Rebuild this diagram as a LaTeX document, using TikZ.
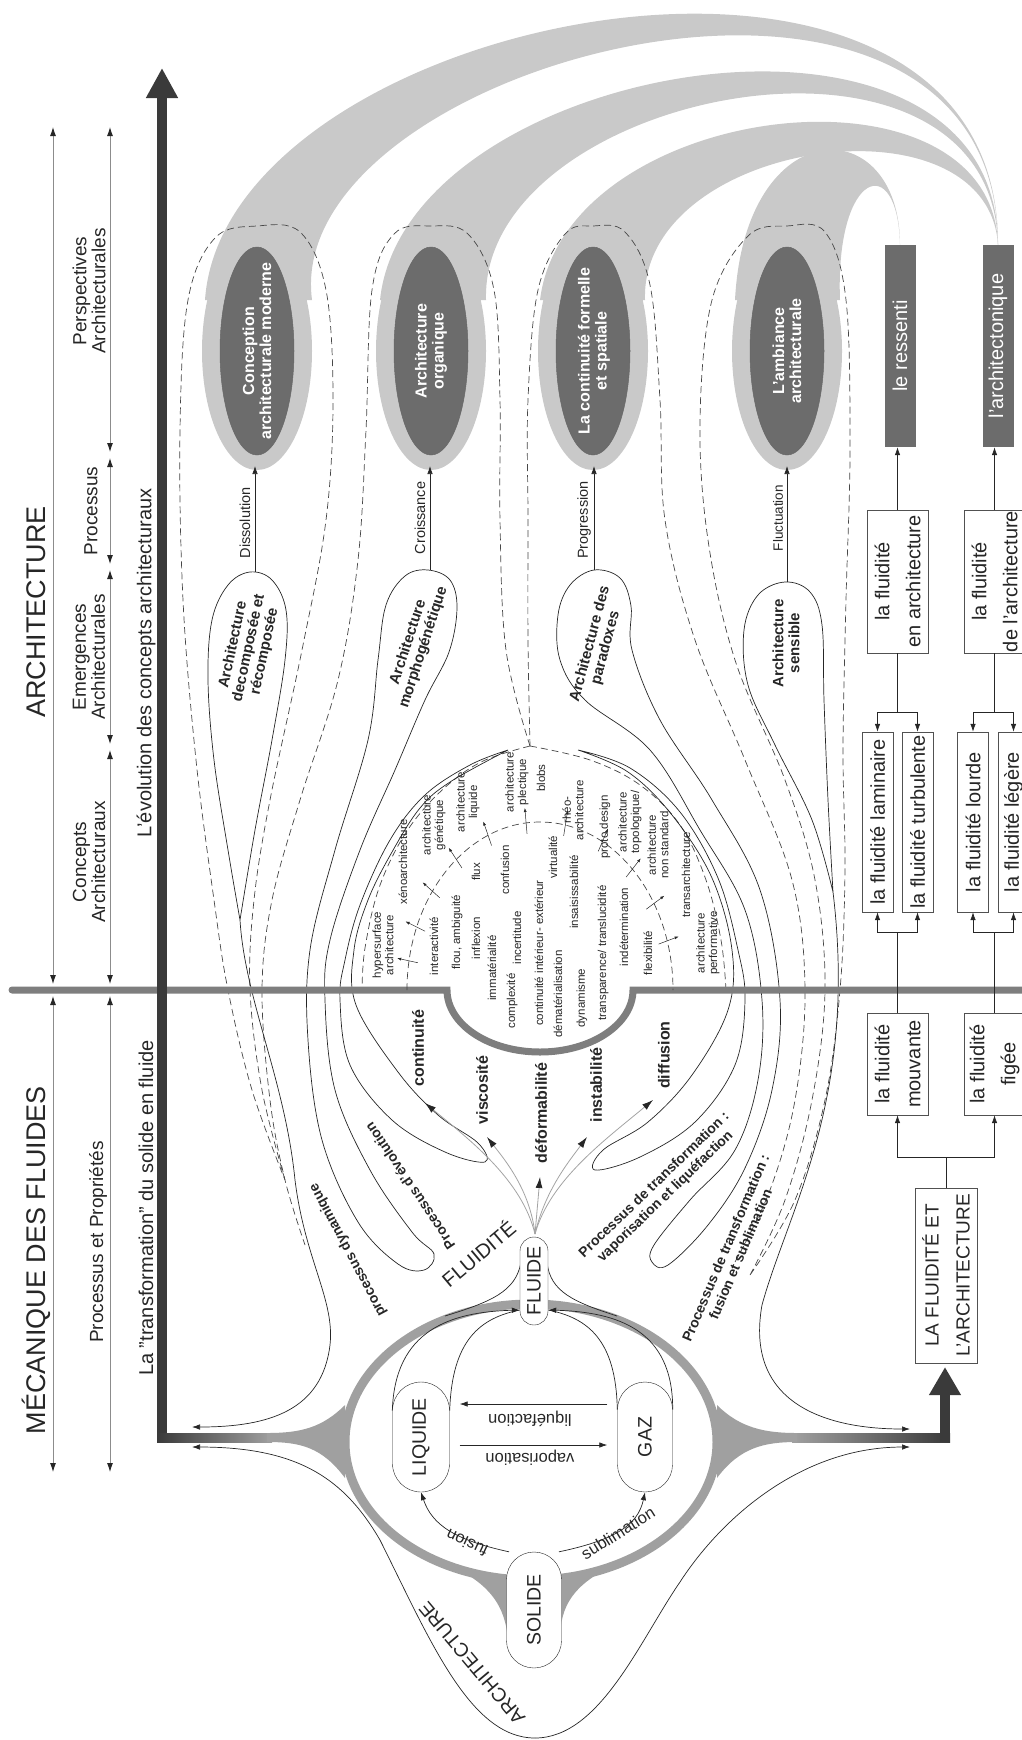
\documentclass[tikz,border=0pt]{standalone}
\usepackage{fontspec}
\setmainfont{Liberation Sans}
\usetikzlibrary{arrows.meta,positioning,shapes.misc,calc}

\definecolor{axisdark}{HTML}{3A3A3A}
\definecolor{bargrey}{HTML}{7E7E7E}
\definecolor{bandgrey}{HTML}{C9C9C9}
\definecolor{coregrey}{HTML}{6C6C6C}
\definecolor{ringgrey}{HTML}{A0A0A0}
\definecolor{ink}{HTML}{262626}
\definecolor{wire}{HTML}{8C8C8C}

\tikzset{
  vtext/.style={rotate=90, inner sep=1pt, text=ink, align=center},
  bigtitle/.style={vtext, font=\fontsize{27}{30}\selectfont},
  coltitle/.style={vtext, font=\fontsize{19}{19}\selectfont},
  axistitle/.style={vtext, font=\fontsize{20}{22}\selectfont},
  corename/.style={vtext, text=white, font=\bfseries\fontsize{16}{17}\selectfont},
  lobename/.style={inner sep=1pt, text=ink, align=center, font=\bfseries\fontsize{15}{16}\selectfont},
  stepname/.style={vtext, font=\fontsize{14.5}{16}\selectfont},
  propname/.style={vtext, font=\bfseries\fontsize{16}{18}\selectfont},
  idea/.style={vtext, inner sep=0pt, font=\fontsize{11.5}{12.5}\selectfont},
  procname/.style={inner sep=0pt, text=ink, align=center, font=\bfseries\fontsize{14}{16}\selectfont},
  phasenode/.style={rounded rectangle, draw=ink, fill=white, rotate=90, inner sep=0pt, font=\fontsize{19.5}{20}\selectfont, text=ink},
  phasename/.style={inner sep=0pt, text=ink, font=\fontsize{16.5}{18}\selectfont},
  plainbox/.style={draw=ink!80, fill=white, rotate=90, inner sep=0pt, align=center, text=ink, font=\fontsize{20}{31}\selectfont},
  darkbox/.style={fill=coregrey, rotate=90, inner sep=0pt, text=white, font=\fontsize{20}{22}\selectfont, minimum width=202pt, minimum height=31pt},
  headtip/.style={-{Latex[length=8pt,width=5.5pt,color=ink]}},
  smalltip/.style={-{Latex[length=4pt,width=3pt,color=ink]}},
  dimline/.style={{Latex[length=9pt,width=6pt,color=ink]}-{Latex[length=9pt,width=6pt,color=ink]}, wire, line width=0.9pt},
  flowline/.style={ink, line width=0.7pt, headtip},
  propline/.style={wire!80, line width=0.8pt, -{Latex[length=11pt,width=7pt,color=ink]}},
  loopline/.style={ink, line width=0.7pt},
  dashloop/.style={ink!85, line width=0.7pt, dash pattern=on 7pt off 4pt},
}

\begin{document}
\begin{tikzpicture}[x=1pt,y=-1pt]
\useasboundingbox (0,0) rectangle (1022,1740);

\fill[bandgrey] (205,300) .. controls (225,10) and (1000,-140) .. (998,245) .. controls (997,-125) and (280,60) .. (312,300) -- cycle;
\fill[bandgrey] (380,300) .. controls (405,60) and (998,-40) .. (998,245) .. controls (992,-10) and (480,90) .. (486,300) -- cycle;
\fill[bandgrey] (540,300) .. controls (565,100) and (992,50) .. (998,245) .. controls (988,90) and (640,140) .. (645,300) -- cycle;
\fill[bandgrey] (735,300) .. controls (745,110) and (900,110) .. (900,245) .. controls (898,150) and (835,170) .. (840,300) -- cycle;

\draw[dashloop] plot[smooth, tension=0.6] coordinates {(285,1180) (262,1090) (250,990) (254,900) (270,800) (302,650) (326,520) (333,400) (326,290) (300,232) (257,226) (215,238) (188,300) (180,430) (183,600) (196,760) (214,900) (228,990) (252,1090) (285,1180)};
\draw[dashloop] plot[smooth, tension=0.6] coordinates {(530,746) (506,650) (500,520) (500,400) (494,290) (468,234) (431,226) (394,234) (372,290) (366,430) (358,560) (338,680) (300,800) (272,900) (262,990) (270,1100) (285,1180) (305,1245)};
\draw[dashloop] plot[smooth, tension=0.6] coordinates {(530,746) (481,762) (440,792) (405,834) (379,888) (365,948) (362,990)};
\draw[dashloop] plot[smooth, tension=0.6] coordinates {(530,746) (590,760) (640,785) (680,825) (706,880) (721,940) (726,990)};
\draw[dashloop] plot[smooth, tension=0.6] coordinates {(530,746) (528,640) (528,520) (528,400) (538,290) (565,234) (593,226) (625,232) (650,285) (660,400) (665,520) (695,640) (745,760) (792,880) (805,990) (795,1100) (770,1190) (735,1262)};
\draw[dashloop] plot[smooth, tension=0.6] coordinates {(750,1275) (785,1200) (812,1100) (825,990) (815,880) (785,780) (735,660) (708,540) (700,420) (712,300) (748,236) (787,226) (825,232) (846,300) (850,450) (846,600) (843,750) (845,870) (840,990) (825,1100) (795,1200) (750,1275)};

\foreach \cx in {257,431,593,787}{
  \fill[bandgrey] (\cx,351) ellipse[x radius=55, y radius=119];
  \filldraw[fill=coregrey, draw=ink!70, line width=0.5pt] (\cx,351) ellipse[x radius=37, y radius=104];
}
\node[corename] (coreone) at (257,351) {Conception\\architecturale moderne};
\node[corename] (coretwo) at (431,351) {Architecture\\organique};
\node[corename] (corethree) at (594,351) {La continuité formelle\\et spatiale};
\node[corename] (corefour) at (787,351) {L'ambiance\\architecturale};

\draw[loopline] plot[smooth, tension=0.6] coordinates {(240,920) (228,850) (214,760) (208,680) (212,620) (228,585) (250,572) (272,580) (286,610) (285,660) (272,740) (255,830) (240,920)};
\draw[flowline] (240,920) .. controls (245,1000) and (285,1080) .. (295,1180) .. controls (305,1260) and (335,1300) .. (330,1345) .. controls (322,1410) and (270,1427) .. (192,1427);
\draw[loopline] plot[smooth cycle, tension=0.6] coordinates {(428,570) (450,580) (457,608) (449,652) (425,700) (395,770) (360,850) (330,940) (325,1000) (335,1090) (370,1170) (412,1232) (434,1254) (424,1270) (398,1264) (358,1222) (322,1140) (308,1040) (310,950) (335,850) (368,740) (378,660) (386,605) (405,576)};
\draw[loopline] plot[smooth, tension=0.6] coordinates {(508,750) (470,765) (425,795) (390,840) (360,905) (345,960) (340,1000) (350,1065) (392,1120) (445,1152) (485,1162) (478,1143) (438,1115) (398,1072) (356,1005) (354,950) (368,900) (392,852) (420,808) (450,782) (508,750)};
\draw[loopline] plot[smooth cycle, tension=0.6] coordinates {(594,570) (620,578) (631,606) (632,650) (660,720) (712,800) (760,890) (780,1000) (772,1090) (745,1168) (708,1225) (668,1265) (652,1262) (654,1245) (690,1200) (735,1150) (758,1080) (762,1000) (745,910) (700,830) (650,750) (585,700) (560,660) (558,615) (570,585)};
\draw[loopline] plot[smooth, tension=0.6] coordinates {(578,750) (630,768) (680,812) (718,878) (738,950) (745,1000) (735,1065) (695,1122) (640,1157) (595,1170) (603,1150) (648,1122) (692,1075) (728,1010) (732,950) (712,878) (672,815) (628,772) (578,750)};
\draw[loopline] plot[smooth, tension=0.6] coordinates {(833,892) (812,820) (775,745) (748,685) (744,630) (758,595) (785,582) (810,592) (822,625) (824,700) (828,800) (833,892)};
\draw[flowline] (833,892) .. controls (858,1100) and (788,1210) .. (762,1305) .. controls (745,1400) and (820,1429) .. (910,1429);

\node[lobename, rotate=78] (lobeone) at (249,648) {Architecture\\decomposée et\\récomposée};
\node[lobename, rotate=72] (lobetwo) at (416,645) {Architecture\\morphogénétique};
\node[lobename, rotate=75] (lobethree) at (598,646) {Architecture des\\paradoxes};
\node[lobename, rotate=90] (lobefour) at (786,643) {Architecture\\sensible};

\draw[flowline] (255,572) -- (255,466);
\draw[flowline] (430,570) -- (430,466);
\draw[flowline] (594,570) -- (594,466);
\draw[flowline] (787,582) -- (787,466);
\node[stepname] (dissolution) at (245,523) {Dissolution};
\node[stepname] (croissance) at (420,518) {Croissance};
\node[stepname] (progression) at (584,520) {Progression};
\node[stepname, font=\fontsize{13.5}{15}\selectfont] (fluctuation) at (778,518) {Fluctuation};

\draw[bargrey, line width=7pt, line cap=round] (12,990) -- (447,990) arc[start angle=180, end angle=0, x radius=93, y radius=62] -- (1022,990);

\coordinate (bubblec) at (540,990);
\draw[dashloop] (407,990) arc[start angle=180, end angle=360, x radius=133, y radius=168];
\foreach \a in {190,202,216,231,247,264,281,298,314,329,343}
  \draw[smalltip, ink, line width=0.5pt] ($(bubblec)+(\a:124 and 157)$) -- ($(bubblec)+(\a:145 and 183)$);

\node[idea] (hypersurface) at (383,945) {hypersurface\\architecture};
\node[idea] (xeno) at (403,862) {xénoarchitecture};
\node[idea] (interactivite) at (434,946) {interactivité};
\node[idea] (genetique) at (434,825) {architecture\\génétique};
\node[idea] (flou) at (457,932) {flou, ambiguité};
\node[idea] (inflexion) at (476,938) {inflexion};
\node[idea] (flux) at (476,872) {flux};
\node[idea] (liquidearch) at (468,802) {architecture\\liquide};
\node[idea] (immaterialite) at (492,968) {immatérialité};
\node[idea] (confusion) at (505,870) {confusion};
\node[idea] (incertitude) at (517,938) {incertitude};
\node[idea] (complexite) at (512,1001) {complexité};
\node[idea] (plectique) at (517,782) {architecture\\plectique};
\node[idea] (blobs) at (541,778) {blobs};
\node[idea] (virtualite) at (553,857) {virtualité};
\node[idea] (interext) at (539,953) {continuité intérieur- extérieur};
\node[idea] (demat) at (558,994) {dématérialisation};
\node[idea] (rheo) at (573,810) {rhéo-\\architecture};
\node[idea] (insaisissable) at (574,892) {insaisissabilité};
\node[idea] (dynamisme) at (582,998) {dynamisme};
\node[idea] (proto) at (605,827) {proto design};
\node[idea] (transparence) at (603,953) {transparence/ translucidité};
\node[idea] (indetermination) at (624,927) {indétermination};
\node[idea] (topologique) at (630,822) {architecture\\topologique/};
\node[idea] (nonstandard) at (658,845) {architecture\\non standard};
\node[idea] (flexibilite) at (648,953) {flexibilité};
\node[idea] (transarch) at (686,875) {transarchitecture};
\node[idea] (performative) at (708,943) {architecture\\performative};

\draw[dimline] (53,127) -- (53,984);
\draw[dimline] (53,996) -- (53,1472);
\draw[dimline] (110,127) -- (110,452);
\draw[dimline] (110,458) -- (110,564);
\draw[dimline] (110,570) -- (110,744);
\draw[dimline] (110,750) -- (110,984);
\draw[dimline] (110,996) -- (110,1472);

\node[bigtitle] (archtitle) at (36,612) {ARCHITECTURE};
\node[bigtitle] (mecatitle) at (36,1260) {MÉCANIQUE DES FLUIDES};
\node[coltitle] (perspectives) at (89,291) {Perspectives\\Architecturales};
\node[coltitle] (processus) at (91,511) {Processus};
\node[coltitle] (emergences) at (89,657) {Emergences\\Architecturales};
\node[coltitle] (concepts) at (89,862) {Concepts\\Architecturaux};
\node[coltitle] (proprietes) at (98,1242) {Processus et Propriétés};
\node[axistitle] (evolution) at (146,663) {L'évolution des concepts architecturaux};
\node[axistitle] (transformation) at (146,1208) {La "transformation" du solide en fluide};

\draw[axisdark, line width=10pt, -{Triangle[length=30pt,width=30pt]}] (162,1442) -- (162,68);
\shade[left color=axisdark, right color=ringgrey] (157,1433) rectangle (272,1442);
\shade[left color=ringgrey, right color=axisdark] (792,1433) rectangle (950,1442);
\draw[axisdark, line width=10pt, -{Triangle[length=28pt,width=30pt]}] (945,1442) -- (945,1367);

\draw[ringgrey, line width=9pt] (531,1442) ellipse[x radius=186, y radius=138];
\fill[ringgrey] (345,1405) .. controls (322,1428) and (300,1433) .. (267,1433) -- (267,1442) .. controls (300,1442) and (322,1447) .. (345,1478) -- cycle;
\fill[ringgrey] (717,1405) .. controls (740,1428) and (765,1433) .. (797,1433) -- (797,1442) .. controls (765,1442) and (740,1447) .. (717,1478) -- cycle;
\fill[ringgrey] (452,1566) .. controls (490,1585) and (505,1605) .. (508,1640) -- (508,1576) -- cycle;
\fill[ringgrey] (612,1566) .. controls (574,1585) and (560,1605) .. (560,1640) -- (560,1576) -- cycle;
\draw[loopline] (445,1316) .. controls (490,1302) and (516,1292) .. (521,1262);
\draw[loopline] (617,1316) .. controls (574,1302) and (550,1292) .. (547,1262);

\draw[flowline] (535,1738) .. controls (470,1738) and (430,1640) .. (380,1540) .. controls (345,1480) and (300,1447) .. (192,1447);
\draw[flowline] (535,1738) .. controls (600,1738) and (640,1640) .. (680,1582) .. controls (720,1520) and (800,1447) .. (910,1447);

\node[phasenode, minimum width=88pt, minimum height=28pt] (fluide) at (534,1281) {FLUIDE};
\node[phasenode, minimum width=116pt, minimum height=55pt] (solide) at (534,1610) {SOLIDE};
\node[phasenode, minimum width=110pt, minimum height=57pt] (liquide) at (421,1437) {LIQUIDE};
\node[phasenode, minimum width=110pt, minimum height=55pt] (gaz) at (645,1437) {GAZ};

\draw[flowline] (liquide.north east) .. controls (395,1330) and (450,1312) .. ([yshift=-29pt]fluide.north);
\draw[ink, line width=0.7pt] (liquide.south east) .. controls (452,1340) and (480,1318) .. ([yshift=-29pt]fluide.north);
\draw[flowline] (gaz.south east) .. controls (673,1330) and (618,1312) .. ([yshift=-29pt]fluide.south);
\draw[ink, line width=0.7pt] (gaz.north east) .. controls (616,1340) and (588,1318) .. ([yshift=-29pt]fluide.south);
\draw[flowline] ([xshift=-25pt]solide.east) .. controls (455,1540) and (432,1525) .. (liquide.west);
\draw[flowline] ([xshift=25pt]solide.east) .. controls (615,1540) and (638,1525) .. (gaz.west);
\draw[flowline, shorten <=10pt, shorten >=10pt] ([yshift=-8pt]liquide.south) -- ([yshift=-8pt]gaz.north);
\draw[flowline, shorten <=10pt, shorten >=10pt] ([yshift=33pt]gaz.north) -- ([yshift=33pt]liquide.south);
\node[phasename, rotate=180] (vaporisation) at (530,1458) {vaporisation};
\node[phasename, rotate=180] (liquefaction) at (530,1419) {liquéfaction};
\node[phasename, rotate=155] (fusion) at (467,1543) {fusion};
\node[phasename, rotate=32] (sublimation) at (618,1533) {sublimation};
\node[inner sep=0pt, text=ink, font=\fontsize{19.5}{20}\selectfont, rotate=130] (envelope) at (472,1663) {ARCHITECTURE};

\coordinate (fsrc) at (535,1234);
\draw[propline] (fsrc) .. controls (522,1180) and (470,1140) .. (425,1103);
\draw[propline] (fsrc) .. controls (530,1190) and (505,1160) .. (487,1137);
\draw[propline] (fsrc) -- (540,1177);
\draw[propline] (fsrc) .. controls (545,1190) and (570,1160) .. (587,1137);
\draw[propline] (fsrc) .. controls (550,1180) and (605,1140) .. (653,1100);
\node[propname] (continuite) at (418,1048) {continuité};
\node[propname] (viscosite) at (482,1090) {viscosité};
\node[propname] (deformabilite) at (541,1113) {déformabilité};
\node[propname] (instabilite) at (596,1085) {instabilité};
\node[propname] (diffusion) at (664,1055) {diffusion};
\node[inner sep=0pt, text=ink, font=\fontsize{20}{22}\selectfont, rotate=40] (fluidite) at (478,1253) {FLUIDITÉ};

\node[procname, rotate=118] (dynamique) at (348,1250) {processus dynamique};
\node[procname, rotate=124] (evolutionproc) at (410,1186) {Processus d'évolution};
\node[procname, rotate=44] (vaporproc) at (660,1191) {Processus de transformation :\\vaporisation et liquéfaction};
\node[procname, rotate=67] (fusionproc) at (733,1251) {Processus de transformation :\\fusion et sublimation};

\node[darkbox] (ressenti) at (900,346) {le ressenti};
\node[darkbox] (architectonique) at (998,346) {l'architectonique};
\node[plainbox, minimum width=143pt, minimum height=61pt] (enarch) at (897.5,581.5) {la fluidité\\en architecture};
\node[plainbox, minimum width=143pt, minimum height=61pt] (delarch) at (994.5,581.5) {la fluidité\\de l'architecture};
\node[plainbox, minimum width=180pt, minimum height=31pt] (laminaire) at (877.5,822) {la fluidité laminaire};
\node[plainbox, minimum width=180pt, minimum height=31pt] (turbulente) at (917.5,822) {la fluidité turbulente};
\node[plainbox, minimum width=180pt, minimum height=31pt] (lourde) at (973,822) {la fluidité lourde};
\node[plainbox, minimum width=180pt, minimum height=31pt] (legere) at (1013.5,822) {la fluidité légère};
\node[plainbox, minimum width=102pt, minimum height=61pt] (mouvante) at (897.5,1064) {la fluidité\\mouvante};
\node[plainbox, minimum width=102pt, minimum height=61pt] (figee) at (994.5,1064) {la fluidité\\figée};
\node[plainbox, minimum width=175pt, minimum height=62pt, font=\fontsize{19}{31}\selectfont] (lafluidite) at (946,1275.5) {LA FLUIDITÉ ET\\L'ARCHITECTURE};

\draw[flowline] (enarch.east) -- (enarch.east |- ressenti.west);
\draw[flowline] (delarch.east) -- (delarch.east |- architectonique.west);
\coordinate (splita) at (897.5,712);
\coordinate (splitb) at (994.5,712);
\draw[ink, line width=0.7pt] (enarch.west) -- (splita);
\draw[flowline] (splita) -| (laminaire.east);
\draw[flowline] (splita) -| (turbulente.east);
\draw[ink, line width=0.7pt] (delarch.west) -- (splitb);
\draw[flowline] (splitb) -| (lourde.east);
\draw[flowline] (splitb) -| (legere.east);
\coordinate (splitc) at (897.5,932);
\coordinate (splitd) at (994.5,932);
\draw[ink, line width=0.7pt] (mouvante.east) -- (splitc);
\draw[flowline] (splitc) -| (laminaire.west);
\draw[flowline] (splitc) -| (turbulente.west);
\draw[ink, line width=0.7pt] (figee.east) -- (splitd);
\draw[flowline] (splitd) -| (lourde.west);
\draw[flowline] (splitd) -| (legere.west);
\coordinate (splite) at (946,1157);
\draw[ink, line width=0.7pt] (lafluidite.east) -- (splite);
\draw[flowline] (splite) -| (mouvante.west);
\draw[flowline] (splite) -| (figee.west);
\end{tikzpicture}
\end{document}
